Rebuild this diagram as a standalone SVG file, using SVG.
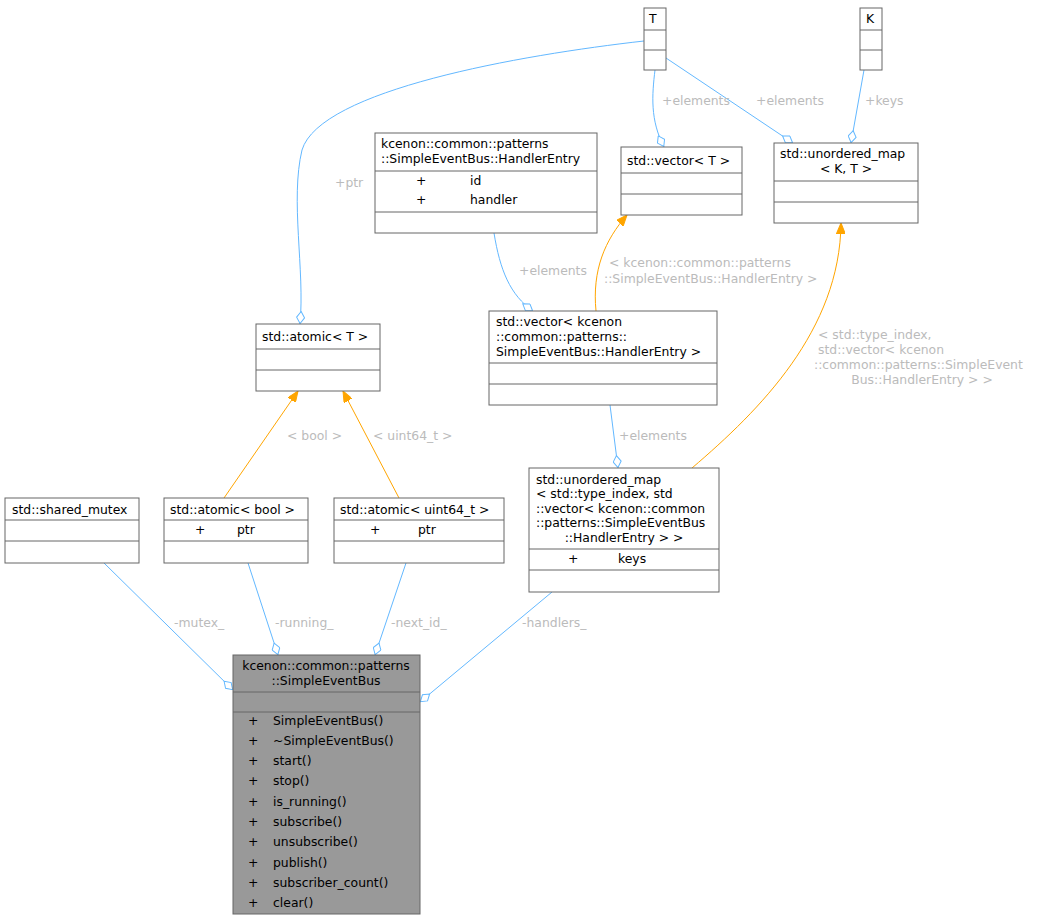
<svg xmlns="http://www.w3.org/2000/svg" width="1037" height="920" viewBox="0 0 1037 920">
<style>
text{font-family:"DejaVu Sans",sans-serif;font-size:12.4px;fill:#000}
.b{fill:#fff;stroke:#666;stroke-width:1}
.g{fill:#999;stroke:#666;stroke-width:1}
.s{stroke:#666;stroke-width:1}
.e{fill:none;stroke:#63b8ff;stroke-width:1}
.o{fill:none;stroke:#ffa500;stroke-width:1}
.l{fill:#bbb}
.m{text-anchor:middle}
</style>
<defs>
<marker id="d" viewBox="0 0 13 9" refX="13" refY="4.5" markerWidth="13" markerHeight="9" orient="auto" markerUnits="userSpaceOnUse"><path d="M0.5,4.5 L6.5,0.5 L12.5,4.5 L6.5,8.5 Z" fill="#fff" stroke="#63b8ff"/></marker>
<marker id="a" viewBox="0 0 11 9" refX="11" refY="4.5" markerWidth="11" markerHeight="9" orient="auto" markerUnits="userSpaceOnUse"><path d="M0,0 L11,4.5 L0,9 Z" fill="#ffa500" stroke="#ffa500"/></marker>
</defs>
<g id="edges">
<path class="e" d="M644,41 C520,55 320,90 302,150 C290,200 305,270 300,324" marker-end="url(#d)"/>
<path class="e" d="M655,70 C652,95 650,120 664,147" marker-end="url(#d)"/>
<path class="e" d="M666,58 L793,143" marker-end="url(#d)"/>
<path class="e" d="M864,70 L851,143" marker-end="url(#d)"/>
<path class="e" d="M494,233 C500,270 510,295 533,311" marker-end="url(#d)"/>
<path class="e" d="M610,405 L618,468" marker-end="url(#d)"/>
<path class="e" d="M104,563 L233,690" marker-end="url(#d)"/>
<path class="e" d="M248,563 L278,655" marker-end="url(#d)"/>
<path class="e" d="M406,563 L375,655" marker-end="url(#d)"/>
<path class="e" d="M552,592 L420,702" marker-end="url(#d)"/>
<path class="o" d="M224,498 L298,391" marker-end="url(#a)"/>
<path class="o" d="M399,498 L343,391" marker-end="url(#a)"/>
<path class="o" d="M596,311 C592,270 605,240 627,215" marker-end="url(#a)"/>
<path class="o" d="M692,468 C760,410 840,330 841,223" marker-end="url(#a)"/>
<text class="l" x="335" y="187">+ptr</text>
<text class="l" x="662" y="105">+elements</text>
<text class="l" x="756" y="105">+elements</text>
<text class="l" x="865" y="105">+keys</text>
<text class="l" x="519" y="275">+elements</text>
<text class="l" x="619" y="440">+elements</text>
<text class="l" x="174" y="627">-mutex_</text>
<text class="l" x="275" y="627">-running_</text>
<text class="l" x="391" y="627">-next_id_</text>
<text class="l" x="522" y="627">-handlers_</text>
<text class="l" x="287" y="440">&lt; bool &gt;</text>
<text class="l" x="373" y="440">&lt; uint64_t &gt;</text>
<text class="l" x="609" y="267">&lt; kcenon::common::patterns</text>
<text class="l" x="604" y="283">::SimpleEventBus::HandlerEntry &gt;</text>
<text class="l" x="818" y="339">&lt; std::type_index,</text>
<text class="l" x="818" y="354">std::vector&lt; kcenon</text>
<text class="l" x="814" y="369">::common::patterns::SimpleEvent</text>
<text class="l m" x="922" y="384">Bus::HandlerEntry &gt; &gt;</text>
</g>
<g id="T"><rect class="b" x="644" y="8" width="22" height="62"/><path class="s" d="M644,30H666M644,50H666"/><text x="649" y="23">T</text></g>
<g id="K"><rect class="b" x="860" y="8" width="22" height="62"/><path class="s" d="M860,30H882M860,50H882"/><text x="866" y="23">K</text></g>
<g id="vecT"><rect class="b" x="621" y="147" width="121" height="68"/><path class="s" d="M621,173H742M621,194H742"/><text x="627" y="165">std::vector&lt; T &gt;</text></g>
<g id="umapKT"><rect class="b" x="774" y="143" width="144" height="80"/><path class="s" d="M774,181H918M774,202H918"/><text x="780" y="158">std::unordered_map</text><text class="m" x="846" y="173">&lt; K, T &gt;</text></g>
<g id="handlerEntry"><rect class="b" x="375" y="133" width="222" height="100"/><path class="s" d="M375,171H597M375,212H597"/><text x="381" y="148">kcenon::common::patterns</text><text x="381" y="163">::SimpleEventBus::HandlerEntry</text><text x="416" y="185">+</text><text x="470" y="185">id</text><text x="416" y="204">+</text><text x="470" y="204">handler</text></g>
<g id="atomicT"><rect class="b" x="256" y="324" width="124" height="67"/><path class="s" d="M256,349H380M256,370H380"/><text x="262" y="341">std::atomic&lt; T &gt;</text></g>
<g id="vecHE"><rect class="b" x="489" y="311" width="228" height="94"/><path class="s" d="M489,363H717M489,384H717"/><text x="496" y="326">std::vector&lt; kcenon</text><text x="496" y="341">::common::patterns::</text><text x="496" y="356">SimpleEventBus::HandlerEntry &gt;</text></g>
<g id="sharedMutex"><rect class="b" x="5" y="498" width="134" height="65"/><path class="s" d="M5,520H139M5,541H139"/><text x="12" y="514">std::shared_mutex</text></g>
<g id="atomicBool"><rect class="b" x="164" y="498" width="144" height="65"/><path class="s" d="M164,520H308M164,541H308"/><text x="170" y="514">std::atomic&lt; bool &gt;</text><text x="195" y="534">+</text><text x="237" y="534">ptr</text></g>
<g id="atomicU64"><rect class="b" x="334" y="498" width="170" height="65"/><path class="s" d="M334,520H504M334,541H504"/><text x="340" y="514">std::atomic&lt; uint64_t &gt;</text><text x="370" y="534">+</text><text x="418" y="534">ptr</text></g>
<g id="umapBig"><rect class="b" x="529" y="468" width="190" height="124"/><path class="s" d="M529,549H719M529,570H719"/><text x="536" y="484">std::unordered_map</text><text x="536" y="498">&lt; std::type_index, std</text><text x="536" y="513">::vector&lt; kcenon::common</text><text x="536" y="527">::patterns::SimpleEventBus</text><text class="m" x="624" y="542">::HandlerEntry &gt; &gt;</text><text x="568" y="563">+</text><text x="618" y="563">keys</text></g>
<g id="simpleEventBus"><rect class="g" x="233" y="655" width="187" height="259"/><path class="s" d="M233,692H420M233,712H420"/><text class="m" x="326" y="670">kcenon::common::patterns</text><text class="m" x="326" y="685">::SimpleEventBus</text>
<text x="248" y="725">+</text><text x="273" y="725">SimpleEventBus()</text>
<text x="248" y="745">+</text><text x="273" y="745">~SimpleEventBus()</text>
<text x="248" y="765">+</text><text x="273" y="765">start()</text>
<text x="248" y="785">+</text><text x="273" y="785">stop()</text>
<text x="248" y="806">+</text><text x="273" y="806">is_running()</text>
<text x="248" y="826">+</text><text x="273" y="826">subscribe()</text>
<text x="248" y="846">+</text><text x="273" y="846">unsubscribe()</text>
<text x="248" y="867">+</text><text x="273" y="867">publish()</text>
<text x="248" y="887">+</text><text x="273" y="887">subscriber_count()</text>
<text x="248" y="907">+</text><text x="273" y="907">clear()</text></g>
</svg>
